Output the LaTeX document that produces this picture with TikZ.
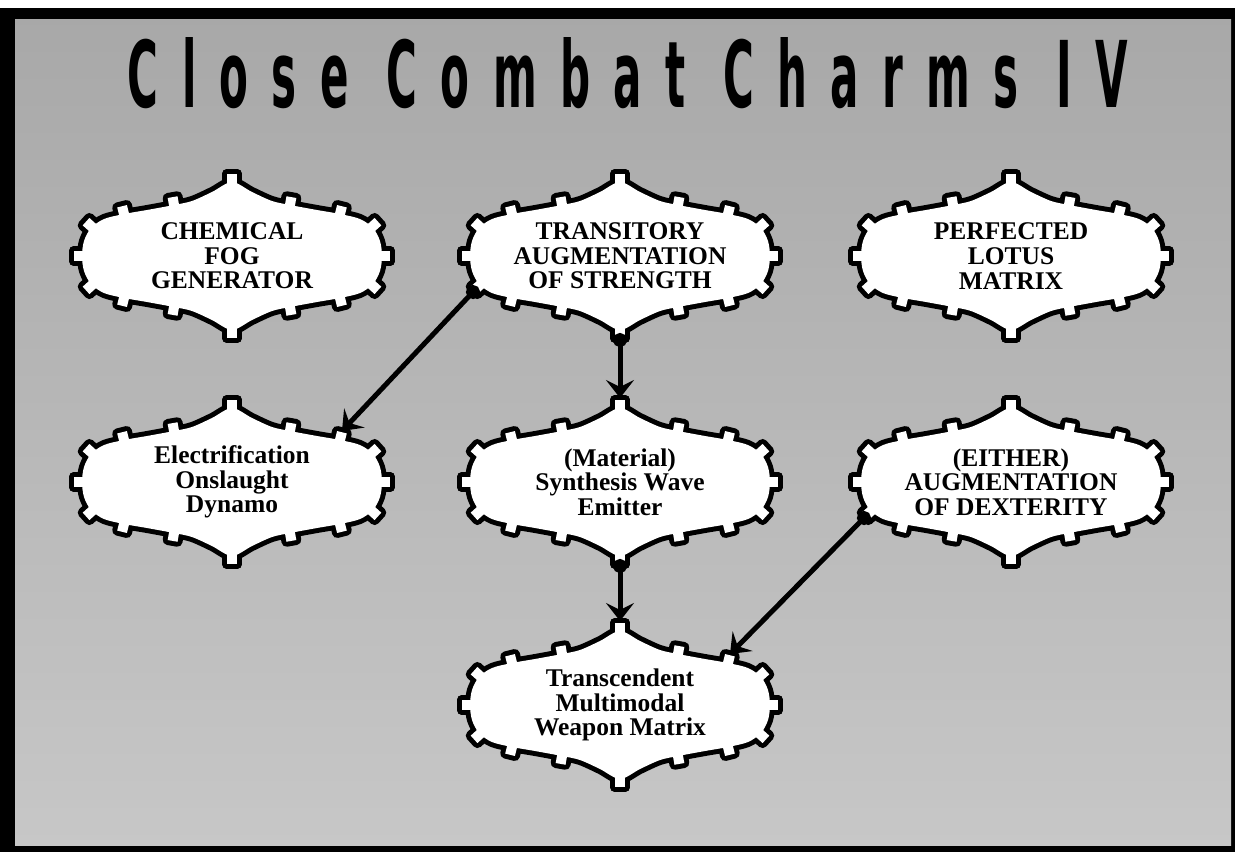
\documentclass[tikz,border=0pt]{standalone}
\usepackage{fontspec}
\setmainfont{Liberation Serif}
\newfontfamily\titlefont{DejaVu Sans Condensed}[LetterSpace=50]
\usepackage{tikz}
\usetikzlibrary{arrows.meta, calc}
\tikzset{
    cogline/.style={draw=black, line width=2mm, line join=round},
    cogfill/.style={fill=white},
    cogtext/.style={align=center, inner sep=0pt,
        font=\bfseries\fontsize{14.5}{14}\selectfont},
    titletext/.style={inner sep=0pt, font=\titlefont\bfseries},
    link/.style={{Circle[length=2.8mm]}-{Stealth[length=3.6mm, width=5.6mm, inset=1.4mm]},
        line width=1mm, shorten <=-1.4mm},
}
% body of one cog frame, centre at origin
\newcommand{\cogoutline}{plot[smooth cycle, tension=0.5] coordinates {
    (150,0) (148,15) (141,28) (128,37) (108,42) (85,46) (58,51) (40,55) (20,64) (0,74)
    (-20,64) (-40,55) (-58,51) (-85,46) (-108,42) (-128,37) (-141,28) (-148,15)
    (-150,0) (-148,-15) (-141,-28) (-128,-37) (-108,-42) (-85,-46) (-58,-51) (-40,-55) (-20,-64) (0,-74)
    (20,-64) (40,-55) (58,-51) (85,-46) (108,-42) (128,-37) (141,-28) (148,-15)}}
\newcommand{\cognode}[3]{%
    \begin{scope}[shift={(#2)}]
        \foreach \pass in {cogline, cogfill} {
            \path[\pass] \cogoutline;
            \foreach \tx/\ty/\ta in {150/0/0, 140/29/42, 108/42/76, 58/51/80, 0/74/90}
                \foreach \sx/\sy in {1/1, -1/1, -1/-1, 1/-1}
                    \path[\pass, xscale=\sx, yscale=\sy, shift={(\tx,\ty)}, rotate=\ta] (-5,-5) rectangle (8,5);
        }
        \coordinate (#1-n) at (0,84);
        \coordinate (#1-s) at (0,-84);
        \coordinate (#1-ne) at (110,51);
        \coordinate (#1-sw) at (-147,-36);
    \end{scope}
    \node[cogtext] (#1) at (#2) {#3};
}

\begin{document}
\begin{tikzpicture}[x=0.2mm, y=0.2mm]
    \useasboundingbox (0,0) rectangle (1235,-852);
    \fill[white] (0,0) rectangle (1235,-852);
    \fill[black] (0,-8) rectangle (1235,-852);
    \shade[top color=black!34, bottom color=black!22] (15,-19) rectangle (1231,-845);

    \node[titletext] (title) at (628,-73) {\resizebox{200mm}{14mm}{Close Combat Charms IV}};

    \cognode{fog}{232,-256}{CHEMICAL\\FOG\\GENERATOR}
    \cognode{strength}{620,-256}{TRANSITORY\\AUGMENTATION\\OF STRENGTH}
    \cognode{lotus}{1011,-256}{PERFECTED\\LOTUS\\MATRIX}
    \cognode{dynamo}{232,-482}{Electrification\\Onslaught\\Dynamo}
    \cognode{emitter}{620,-482}{(Material)\\Synthesis Wave\\Emitter}
    \cognode{dexterity}{1011,-482}{(EITHER)\\AUGMENTATION\\OF DEXTERITY}
    \cognode{weapon}{620,-705}{Transcendent\\Multimodal\\Weapon Matrix}

    \draw[link] (strength-sw) -- (dynamo-ne);
    \draw[link] (strength-s) -- (emitter-n);
    \draw[link] (emitter-s) -- (weapon-n);
    \draw[link] (dexterity-sw) -- (weapon-ne);
\end{tikzpicture}
\end{document}
